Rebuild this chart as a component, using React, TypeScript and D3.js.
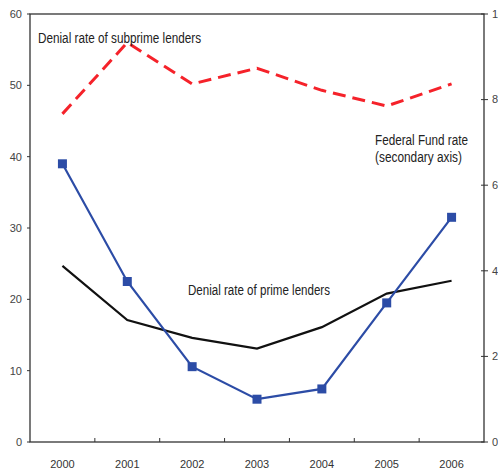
import React from "react";
import * as d3 from "d3";

// values
const years = ["2000", "2001", "2002", "2003", "2004", "2005", "2006"];
const subprimeDenial = [46, 56, 50.2, 52.4, 49.3, 47.1, 50.2];
const primeDenial = [24.7, 17.1, 14.6, 13.1, 16.1, 20.8, 22.6];
const fedFundRate = [6.5, 3.75, 1.76, 1.0, 1.24, 3.25, 5.25];
const leftTicks = [0, 10, 20, 30, 40, 50, 60];
const rightTicks = [0, 2, 4, 6, 8, 10];

const W = 498;
const H = 472;
const margin = { top: 14, right: 14, bottom: 30, left: 30 };
const FONT = "'Liberation Sans Narrow', 'Arial Narrow', 'Liberation Sans', Arial, sans-serif";

export default function App() {
  const x = d3
    .scaleBand<string>()
    .domain(years)
    .range([margin.left, W - margin.right]);
  const yLeft = d3.scaleLinear().domain([0, 60]).range([H - margin.bottom, margin.top]);
  const yRight = d3.scaleLinear().domain([0, 10]).range([H - margin.bottom, margin.top]);

  const cx = (i: number) => (x(years[i]) ?? 0) + x.bandwidth() / 2;

  const leftLine = d3
    .line<number>()
    .x((_, i) => cx(i))
    .y((d) => yLeft(d));
  const rightLine = d3
    .line<number>()
    .x((_, i) => cx(i))
    .y((d) => yRight(d));

  const x0 = margin.left;
  const x1 = W - margin.right;
  const y0 = H - margin.bottom;
  const yTop = margin.top;

  // boundaries between the year bands
  const boundaries = years.slice(1).map((yr) => x(yr) ?? 0);

  return (
    <svg
      width={W}
      height={H}
      style={{ position: "absolute", left: 0, top: 0, background: "#fff" }}
      fontFamily={FONT}
    >
      {/* frame */}
      <rect x={x0} y={yTop} width={x1 - x0} height={y0 - yTop} fill="none" stroke="#333" strokeWidth={1.3} />

      {/* left axis */}
      {leftTicks.map((t) => (
        <g key={"l" + t}>
          <line x1={x0 - 3} x2={x0} y1={yLeft(t)} y2={yLeft(t)} stroke="#333" />
          <text x={x0 - 8} y={yLeft(t)} dy="0.35em" textAnchor="end" fontSize={11} fill="#444">
            {t}
          </text>
        </g>
      ))}

      {/* right axis */}
      {rightTicks.map((t) => (
        <g key={"r" + t}>
          <line x1={x1 - 3} x2={x1 + 4} y1={yRight(t)} y2={yRight(t)} stroke="#333" />
          <text x={x1 + 8} y={yRight(t)} dy="0.35em" textAnchor="start" fontSize={11} fill="#444">
            {t}
          </text>
        </g>
      ))}

      {/* bottom axis */}
      {boundaries.map((b, i) => (
        <line key={"b" + i} x1={b} x2={b} y1={y0} y2={y0 - 4} stroke="#333" />
      ))}
      {years.map((yr, i) => (
        <text key={yr} x={cx(i)} y={y0 + 26} textAnchor="middle" fontSize={11} fill="#333">
          {yr}
        </text>
      ))}

      {/* series */}
      <path
        d={leftLine(subprimeDenial) ?? ""}
        fill="none"
        stroke="#f5222a"
        strokeWidth={3}
        strokeDasharray="13 7"
      />
      <path d={leftLine(primeDenial) ?? ""} fill="none" stroke="#111" strokeWidth={2.2} />
      <path d={rightLine(fedFundRate) ?? ""} fill="none" stroke="#2c4ca6" strokeWidth={2.2} />
      {fedFundRate.map((v, i) => (
        <rect
          key={"m" + i}
          x={cx(i) - 4.5}
          y={yRight(v) - 4.5}
          width={9}
          height={9}
          fill="#2c4ca6"
        />
      ))}

      {/* labels */}
      <text x={38} y={43} fontSize={14} fill="#222" textLength={163} lengthAdjust="spacingAndGlyphs">
        Denial rate of subprime lenders
      </text>
      <text x={375} y={145} fontSize={14} fill="#222" textLength={93} lengthAdjust="spacingAndGlyphs">
        Federal Fund rate
      </text>
      <text x={375} y={162} fontSize={14} fill="#222" textLength={87} lengthAdjust="spacingAndGlyphs">
        (secondary axis)
      </text>
      <text x={188} y={295} fontSize={14} fill="#222" textLength={142} lengthAdjust="spacingAndGlyphs">
        Denial rate of prime lenders
      </text>
    </svg>
  );
}
